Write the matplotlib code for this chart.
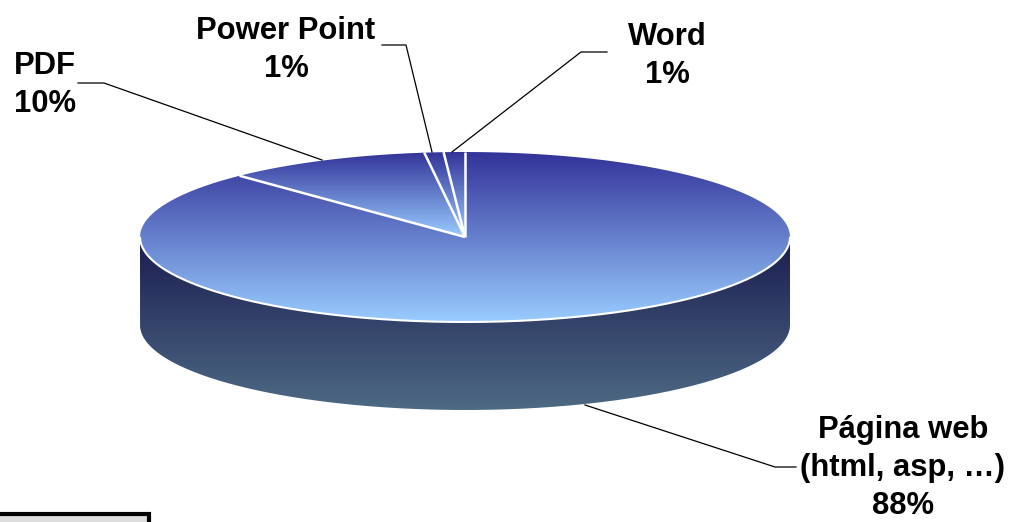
import numpy as np
import matplotlib
matplotlib.use('Agg')
import matplotlib.pyplot as plt
from matplotlib.colors import LinearSegmentedColormap
from matplotlib.patches import PathPatch, Rectangle
from matplotlib.path import Path

# slice sizes in drawing order, counterclockwise from 12 o'clock
categories = ['Word', 'Power Point', 'PDF', 'Página web']
values = [1.05, 0.95, 10.2, 87.8]
labels = ['Word\n1%', 'Power Point\n1%', 'PDF\n10%', 'Página web\n(html, asp, …)\n88%']

plt.rcParams['font.family'] = ['Liberation Sans', 'DejaVu Sans']

cx, cy, rx, ry, depth = 465, 237, 325, 85, 88

top_cmap = LinearSegmentedColormap.from_list('top', ['#333399', '#99ccff'])
side_cmap = LinearSegmentedColormap.from_list('side', ['#1a1c50', '#4e6a84'])

fig = plt.figure(figsize=(10.09, 5.22), dpi=100)
ax = fig.add_axes([0, 0, 1, 1])
ax.set_xlim(0, 1009)
ax.set_ylim(522, 0)
ax.axis('off')


def gradient(path, cmap, zorder):
    verts = path.vertices
    x0, x1 = verts[:, 0].min(), verts[:, 0].max()
    y0, y1 = verts[:, 1].min(), verts[:, 1].max()
    grad = np.linspace(0, 1, 256).reshape(-1, 1)
    im = ax.imshow(grad, cmap=cmap, extent=[x0, x1, y1, y0], aspect='auto',
                   zorder=zorder, interpolation='bilinear')
    im.set_clip_path(PathPatch(path, transform=ax.transData))


# side wall, only the front half of the rim shows
t = np.linspace(0, np.pi, 300)
front_x = cx + rx * np.cos(t)
front_y = cy + ry * np.sin(t)
side = np.vstack([np.column_stack([front_x, front_y]),
                  np.column_stack([front_x[::-1], front_y[::-1] + depth])])
gradient(Path(side), side_cmap, 1)

# top wedges, each one has its own gradient
start = 0
total = sum(values)
for v in values:
    a0 = start / total * 2 * np.pi
    a1 = (start + v) / total * 2 * np.pi
    a = np.linspace(a0, a1, max(int(v * 8), 12))
    # angle measured from 12 o'clock going left
    wx = cx - rx * np.sin(a)
    wy = cy - ry * np.cos(a)
    pts = np.vstack([[cx, cy], np.column_stack([wx, wy]), [cx, cy]])
    gradient(Path(pts), top_cmap, 2)
    ax.plot([cx, wx[0]], [cy, wy[0]], color='white', lw=1.8, zorder=3, solid_capstyle='butt')
    start += v

# white rim on the front of the big slice
ax.plot(front_x[1:-1], front_y[1:-1], color='white', lw=1.5, zorder=3)

# leader lines
ax.plot([78, 104, 322], [83, 83, 160], color='black', lw=0.9, zorder=4)
ax.plot([382, 406, 432], [45, 45, 152], color='black', lw=0.9, zorder=4)
ax.plot([607, 581, 452], [52, 52, 152], color='black', lw=0.9, zorder=4)
ax.plot([585, 775, 796], [405, 467, 467], color='black', lw=0.9, zorder=4)

text_kw = dict(ha='center', va='center', fontweight='bold', fontsize=22.3, color='black',
               linespacing=1.36, zorder=5)
ax.text(667, 56, labels[0], **text_kw)
ax.text(286, 50, labels[1], **text_kw)
ax.text(45, 85, labels[2], **text_kw)
ax.text(903, 468, labels[3], **text_kw)

# cut off box in the corner
ax.add_patch(Rectangle((-5, 514), 154, 20, facecolor='#dddddd', edgecolor='black', lw=3, zorder=5))

fig.savefig('out.png', dpi=100)
